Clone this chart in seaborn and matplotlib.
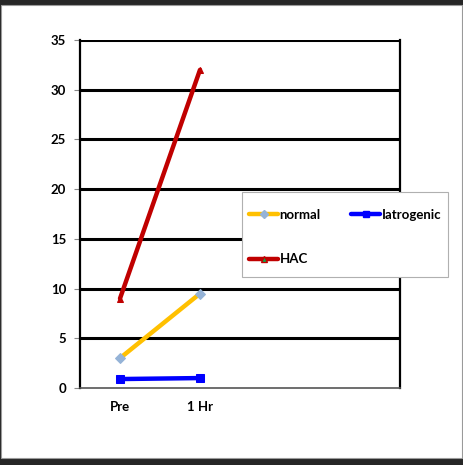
import matplotlib
matplotlib.use("Agg")
import matplotlib.pyplot as plt
import seaborn as sns
import pandas as pd
from matplotlib.patches import Rectangle
from matplotlib.lines import Line2D

categories = ["Pre", "1 Hr", " ", "  "]
time_points = ["Pre", "1 Hr"]
normal = [3.0, 9.5]
iatrogenic = [0.9, 1.0]
hac = [9.0, 32.0]
y_ticks = [0, 5, 10, 15, 20, 25, 30, 35]

sns.set_style("white")
plt.rcParams['font.family'] = ['Lato', 'DejaVu Sans']
plt.rcParams['text.color'] = 'black'
plt.rcParams['xtick.color'] = 'black'
plt.rcParams['ytick.color'] = 'black'
FS = 9.5

rows = []
for name, vals in [("normal", normal), ("Iatrogenic", iatrogenic), ("HAC", hac)]:
    for t, v in zip(time_points, vals):
        rows.append({"time": categories.index(t), "value": v, "series": name})
df = pd.DataFrame(rows)

W, H = 464, 465
fig = plt.figure(figsize=(W / 100, H / 100), dpi=100)
fig.patch.set_facecolor("#262626")
fig.add_artist(Rectangle((1.5 / W, 7 / H), (462 - 1.5) / W, (460 - 7) / H,
                         transform=fig.transFigure, facecolor="white", edgecolor="#9a9a9a",
                         linewidth=0.8, zorder=0))

ax = fig.add_axes([80 / W, (H - 388) / H, 320 / W, 348 / H])
ax.set_facecolor("white")

palette = {"normal": "#FFC000", "Iatrogenic": "#0000FF", "HAC": "#C00000"}
markers = {"normal": "D", "Iatrogenic": "s", "HAC": "^"}
sns.lineplot(data=df, x="time", y="value", hue="series", style="series",
             palette=palette, markers=markers, dashes=False, linewidth=3.2,
             markersize=5, ax=ax, legend=False, zorder=3)
for line in ax.get_lines():
    c = str(line.get_color()).lower()
    if c == "#ffc000":
        line.set_markerfacecolor("#95B3D7"); line.set_markeredgecolor("#95B3D7")
    elif c == "#c00000":
        line.set_markerfacecolor("#C00000"); line.set_markeredgecolor("#C00000")
    else:
        line.set_markerfacecolor("#0000FF"); line.set_markeredgecolor("#0000FF")
        line.set_markersize(6)

ax.set_xlim(-0.5, len(categories) - 0.5)
ax.set_ylim(0, 35)
ax.set_yticks(y_ticks)
ax.set_yticklabels([str(v) for v in y_ticks], fontsize=FS, fontweight="bold")
ax.set_xticks(range(len(categories)))
ax.set_xticklabels(categories, fontsize=FS, fontweight="bold")
ax.set_xticks([i - 0.5 for i in range(len(categories) + 1)], minor=True)
ax.tick_params(axis="x", which="major", length=0, pad=9)
ax.tick_params(axis="x", which="minor", length=4, color="#888888", direction="out")
ax.tick_params(axis="y", length=4, direction="out", color="#888888", pad=6, left=True)
ax.set_xlabel("")
ax.set_ylabel("")

for v in y_ticks[1:]:
    ax.axhline(v, color="black", linewidth=2.2, zorder=1)
for s in ["left", "right"]:
    ax.spines[s].set_color("black")
    ax.spines[s].set_linewidth(1.6)
ax.spines["top"].set_visible(False)
ax.spines["bottom"].set_color("#555555")
ax.spines["bottom"].set_linewidth(1.2)

# legend frame
fig.add_artist(Rectangle((242 / W, 1 - 277 / H), 206 / W, 85 / H,
                         transform=fig.transFigure, facecolor="white",
                         edgecolor="#b0b0b0", linewidth=0.8, zorder=4))
handles = [
    Line2D([], [], color="#FFC000", lw=3.2, marker="D", markersize=4,
           markerfacecolor="#95B3D7", markeredgecolor="#95B3D7"),
    Line2D([], [], color="#C00000", lw=3.2, marker="^", markersize=5,
           markerfacecolor="#00B050", markeredgecolor="#C00000"),
    Line2D([], [], color="#0000FF", lw=3.2, marker="s", markersize=5,
           markerfacecolor="#0000FF", markeredgecolor="#0000FF"),
]
labels = ["normal", "HAC", "Iatrogenic"]
leg = fig.legend(handles, labels, ncol=2, loc="upper left",
                 bbox_to_anchor=(249 / W, 1 - 209 / H),
                 frameon=False, prop={"weight": "bold", "size": FS},
                 handlelength=2.2, handletextpad=0.12, labelspacing=2.45,
                 borderpad=0, borderaxespad=0, columnspacing=2.3)
leg.set_zorder(5)

fig.savefig("out.png", dpi=100, facecolor=fig.get_facecolor())
